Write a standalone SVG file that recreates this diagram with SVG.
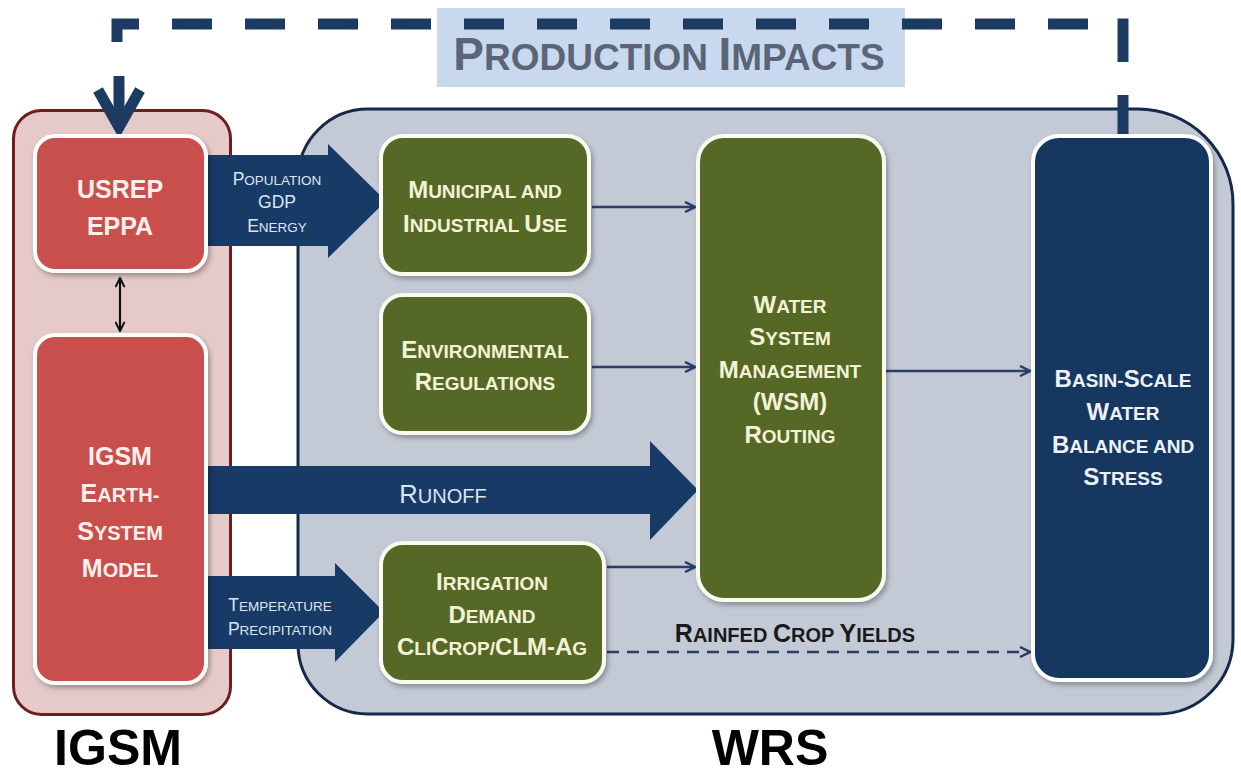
<svg xmlns="http://www.w3.org/2000/svg" width="1241" height="776" viewBox="0 0 1241 776">
  <defs>
    <filter id="sh" x="-10%" y="-10%" width="130%" height="130%">
      <feDropShadow dx="2" dy="3" stdDeviation="2.5" flood-color="#000" flood-opacity="0.3"/>
    </filter>
    <marker id="ah" viewBox="0 0 12 12" markerWidth="12" markerHeight="12" refX="11" refY="6" orient="auto" markerUnits="userSpaceOnUse">
      <path d="M1,1 L11,6 L1,11" fill="none" stroke="#2b3f66" stroke-width="2.5"/>
    </marker>
    <marker id="ahk" viewBox="0 0 12 12" markerWidth="11" markerHeight="11" refX="11" refY="6" orient="auto-start-reverse" markerUnits="userSpaceOnUse">
      <path d="M1,1 L11,6 L1,11" fill="none" stroke="#111" stroke-width="2.2"/>
    </marker>
    <style>
      text { font-family: "Liberation Sans", Arial, sans-serif; font-weight: bold; text-anchor: middle; }
      .red { fill: #c9504e; stroke: #fff; stroke-width: 4; filter: url(#sh); }
      .grn { fill: #546726; stroke: #fbfbef; stroke-width: 4; filter: url(#sh); }
      .nav { fill: #173761; stroke: #fff; stroke-width: 4; filter: url(#sh); }
      .flow { fill: #183a66; }
      .tr { fill: #fdf0ec; font-size: 20px; }
      .tr .B { font-size: 25px; }
      .tg { fill: #f4f2d6; font-size: 19px; }
      .tg .B { font-size: 24px; }
      .tn { fill: #eef1f7; font-size: 19px; }
      .tn .B { font-size: 24px; }
      .ta { fill: #dce5f1; font-size: 13.5px; font-weight: normal; }
      .ta .B { font-size: 17.5px; }
      .thin { stroke: #2b3f66; stroke-width: 2.5; fill: none; marker-end: url(#ah); }
      .fb { stroke: #1d3a62; stroke-width: 11; fill: none; }
    </style>
  </defs>

  <rect width="1241" height="776" fill="#fff"/>

  <!-- containers -->
  <g id="wrs-frame">
    <path d="M368,109 H1138 A95,95 0 0 1 1233,204 V639 A75,75 0 0 1 1158,714 H368 A70,70 0 0 1 298,644 V179 A70,70 0 0 1 368,109 Z" fill="#c3cad6" stroke="#15294a" stroke-width="3"/>
  </g>
  <g id="igsm-frame">
    <rect x="13.5" y="110.5" width="217" height="604" rx="28" fill="#e6c9c9" stroke="#6e1c1c" stroke-width="3"/>
  </g>

  <!-- label backing for the feedback loop -->
  <g id="production-impacts">
    <rect x="437" y="8" width="468" height="79" fill="#c8d9ef"/>
    <text x="669" y="70" fill="#5b6576" style="font-size:37px"><tspan style="font-size:46px">P</tspan>RODUCTION <tspan style="font-size:46px">I</tspan>MPACTS</text>
  </g>

  <!-- connectors -->
  <g id="connectors">
    <!-- block flow arrows -->
    <polygon class="flow" points="208,155 328,155 328,144 386,201 328,258 328,246 208,246"/>
    <polygon class="flow" points="208,466 650,466 650,441 698,490 650,540 650,514 208,514"/>
    <polygon class="flow" points="208,576 335,576 335,563 384,612 335,662 335,649 208,649"/>
    <text class="ta" x="277" y="185"><tspan class="B">P</tspan>OPULATION</text>
    <text class="ta" x="277" y="208"><tspan class="B">GDP</tspan></text>
    <text class="ta" x="277" y="232"><tspan class="B">E</tspan>NERGY</text>
    <text class="ta" x="280" y="611"><tspan class="B">T</tspan>EMPERATURE</text>
    <text class="ta" x="280" y="635"><tspan class="B">P</tspan>RECIPITATION</text>
    <text x="443" y="503" fill="#dce5f1" style="font-size:20px;font-weight:normal"><tspan style="font-size:25.5px">R</tspan>UNOFF</text>

    <!-- thin arrows -->
    <line class="thin" x1="592" y1="207" x2="695" y2="207"/>
    <line class="thin" x1="592" y1="367" x2="695" y2="367"/>
    <line class="thin" x1="607" y1="567" x2="695" y2="567"/>
    <line class="thin" x1="886" y1="371" x2="1030" y2="371"/>
    <line class="thin" x1="607" y1="652" x2="1030" y2="652" stroke-dasharray="12 8"/>
    <text x="795" y="642" fill="#1a1a1a" style="font-size:20px"><tspan style="font-size:25px">R</tspan>AINFED <tspan style="font-size:25px">C</tspan>ROP <tspan style="font-size:25px">Y</tspan>IELDS</text>

    <!-- USREP / IGSM coupling -->
    <line x1="120" y1="278" x2="120" y2="331" stroke="#111" stroke-width="2.2" marker-start="url(#ahk)" marker-end="url(#ahk)"/>

    <!-- production impacts feedback loop -->
    <line class="fb" x1="1123" y1="135" x2="1123" y2="95"/>
    <line class="fb" x1="1123" y1="62" x2="1123" y2="18.5"/>
    <path class="fb" d="M1088,24 H117 V48" stroke-dasharray="40 33"/>
    <line class="fb" x1="119" y1="76" x2="119" y2="126"/>
    <polyline class="fb" points="98,90 119,127 140,90" stroke-linejoin="miter"/>
  </g>

  <!-- IGSM nodes -->
  <g id="usrep">
    <rect class="red" x="35" y="136" width="171" height="135" rx="20"/>
    <text class="tr" x="120" y="198"><tspan class="B">USREP</tspan></text>
    <text class="tr" x="120" y="235"><tspan class="B">EPPA</tspan></text>
  </g>
  <g id="igsm-esm">
    <rect class="red" x="35" y="335" width="171" height="348" rx="20"/>
    <text class="tr" x="120" y="465"><tspan class="B">IGSM</tspan></text>
    <text class="tr" x="120" y="502"><tspan class="B">E</tspan>ARTH-</text>
    <text class="tr" x="120" y="540"><tspan class="B">S</tspan>YSTEM</text>
    <text class="tr" x="120" y="577"><tspan class="B">M</tspan>ODEL</text>
  </g>

  <!-- WRS nodes -->
  <g id="municipal">
    <rect class="grn" x="381" y="136" width="208" height="138" rx="22"/>
    <text class="tg" x="485" y="198"><tspan class="B">M</tspan>UNICIPAL AND</text>
    <text class="tg" x="485" y="232"><tspan class="B">I</tspan>NDUSTRIAL <tspan class="B">U</tspan>SE</text>
  </g>
  <g id="environmental">
    <rect class="grn" x="381" y="295" width="208" height="138" rx="22"/>
    <text class="tg" x="485" y="358"><tspan class="B">E</tspan>NVIRONMENTAL</text>
    <text class="tg" x="485" y="390"><tspan class="B">R</tspan>EGULATIONS</text>
  </g>
  <g id="irrigation">
    <rect class="grn" x="381" y="543" width="223" height="139" rx="22"/>
    <text class="tg" x="492" y="590"><tspan class="B">I</tspan>RRIGATION</text>
    <text class="tg" x="492" y="623"><tspan class="B">D</tspan>EMAND</text>
    <text class="tg" x="492" y="655"><tspan class="B">C</tspan>LI<tspan class="B">C</tspan>ROP/<tspan class="B">CLM-A</tspan>G</text>
  </g>
  <g id="wsm">
    <rect class="grn" x="698" y="136" width="186" height="464" rx="26"/>
    <text class="tg" x="790" y="313"><tspan class="B">W</tspan>ATER</text>
    <text class="tg" x="790" y="345"><tspan class="B">S</tspan>YSTEM</text>
    <text class="tg" x="790" y="378"><tspan class="B">M</tspan>ANAGEMENT</text>
    <text class="tg" x="790" y="410"><tspan class="B">(WSM)</tspan></text>
    <text class="tg" x="790" y="443"><tspan class="B">R</tspan>OUTING</text>
  </g>
  <g id="basin">
    <rect class="nav" x="1033" y="136" width="178" height="544" rx="26"/>
    <text class="tn" x="1123" y="387"><tspan class="B">B</tspan>ASIN-<tspan class="B">S</tspan>CALE</text>
    <text class="tn" x="1123" y="420"><tspan class="B">W</tspan>ATER</text>
    <text class="tn" x="1123" y="453"><tspan class="B">B</tspan>ALANCE AND</text>
    <text class="tn" x="1123" y="485"><tspan class="B">S</tspan>TRESS</text>
  </g>

  <!-- group titles -->
  <g id="titles">
    <text x="118" y="765" fill="#000" style="font-size:50px">IGSM</text>
    <text x="770" y="765" fill="#000" style="font-size:50px">WRS</text>
  </g>
</svg>
